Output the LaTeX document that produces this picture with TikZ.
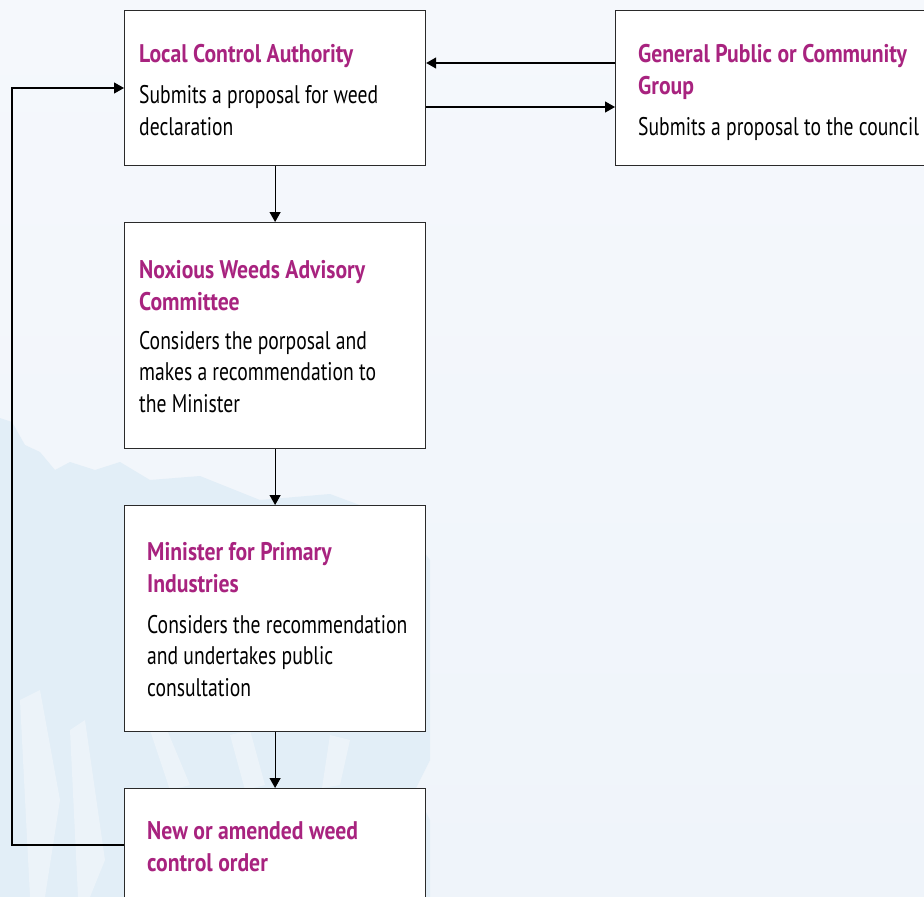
\documentclass[tikz,border=0pt]{standalone}
\usepackage{fontspec}
\setmainfont{PT Sans}[FakeStretch=0.77, BoldFeatures={FakeStretch=0.85}]
\usetikzlibrary{arrows.meta}
\definecolor{bgtop}{HTML}{F5F8FC}
\definecolor{bgbot}{HTML}{EFF4FA}
\definecolor{wmark}{HTML}{E2EEF7}
\definecolor{wlight}{HTML}{ECF3F9}
\definecolor{ttl}{HTML}{A8237F}
\definecolor{edge}{HTML}{2A2A2A}
\tikzset{
  box/.style={draw=edge, line width=1.2pt, fill=white, rectangle, anchor=north west, minimum width=301pt, inner sep=0pt},
  ttext/.style={anchor=base west, align=left, inner sep=0pt, text=ttl, font=\fontsize{25.5}{32}\selectfont\bfseries},
  btext/.style={anchor=base west, align=left, inner sep=0pt, text=black, font=\fontsize{25.5}{31.5}\selectfont},
  arr/.style={draw=black, line width=1.2pt, -{Triangle[width=11pt,length=10pt]}},
  ln/.style={draw=edge, line width=1.2pt}
}
\begin{document}
\begin{tikzpicture}[x=1pt,y=-1pt]
\useasboundingbox (0,0) rectangle (924,897);
\clip (0,0) rectangle (924,897);
\shade[top color=bgtop, bottom color=bgbot] (0,0) rectangle (924,897);
% watermark
\fill[wmark] (0,418) -- (12,422) -- (25,445) -- (40,452) -- (55,470) -- (70,462) -- (95,470) -- (120,462) -- (150,480) -- (200,476) -- (260,500) -- (330,494) -- (400,520) -- (430,560) -- (430,760) -- (415,790) -- (430,820) -- (430,897) -- (0,897) -- cycle;
\fill[wlight] (20,700) -- (40,690) -- (60,800) -- (45,897) -- (30,897) -- cycle;
\fill[wlight] (70,730) -- (85,720) -- (105,860) -- (90,897) -- (78,897) -- cycle;
\fill[wlight] (150,730) -- (165,725) -- (190,785) -- (170,790) -- cycle;
\fill[wlight] (230,735) -- (250,730) -- (265,785) -- (245,790) -- cycle;
\fill[wlight] (330,735) -- (350,740) -- (340,785) -- (322,788) -- cycle;
% boxes
\node[box, minimum height=155pt] (a) at (124,10) {};
\node[box, minimum height=155pt, minimum width=330pt] (b) at (615,10) {};
\node[box, minimum height=226pt] (c) at (124,222) {};
\node[box, minimum height=226pt] (d) at (124,505) {};
\node[box, minimum height=140pt] (e) at (124,788) {};
% texts (anchor = baseline of the last line)
\node[ttext] (at) at (139,62) {Local Control Authority};
\node[btext] (ab) at (139,135) {Submits a proposal for weed\\declaration};
\node[ttext] (bt) at (638,94) {General Public or Community\\Group};
\node[btext] (bb) at (638,135) {Submits a proposal to the council};
\node[ttext] (ct) at (139,310) {Noxious Weeds Advisory\\Committee};
\node[btext] (cb) at (139,412) {Considers the porposal and\\makes a recommendation to\\the Minister};
\node[ttext] (dt) at (147,592) {Minister for Primary\\Industries};
\node[btext] (db) at (147,696) {Considers the recommendation\\and undertakes public\\consultation};
\node[ttext] (et) at (147,871) {New or amended weed\\control order};
% connectors
\coordinate (yBA) at (0,63);
\coordinate (yAB) at (0,107);
\coordinate (yEA) at (0,88);
\coordinate (yEB) at (0,845);
\coordinate (xL) at (12,0);
\draw[arr] (a.south) -- (c.north);
\draw[arr] (c.south) -- (d.north);
\draw[arr] (d.south) -- (e.north);
\draw[arr] (b.west |- yBA) -- (a.east |- yBA);
\draw[arr] (a.east |- yAB) -- (b.west |- yAB);
\draw[arr] (e.west |- yEB) -- (xL |- yEB) -- (xL |- yEA) -- (a.west |- yEA);
\end{tikzpicture}
\end{document}
